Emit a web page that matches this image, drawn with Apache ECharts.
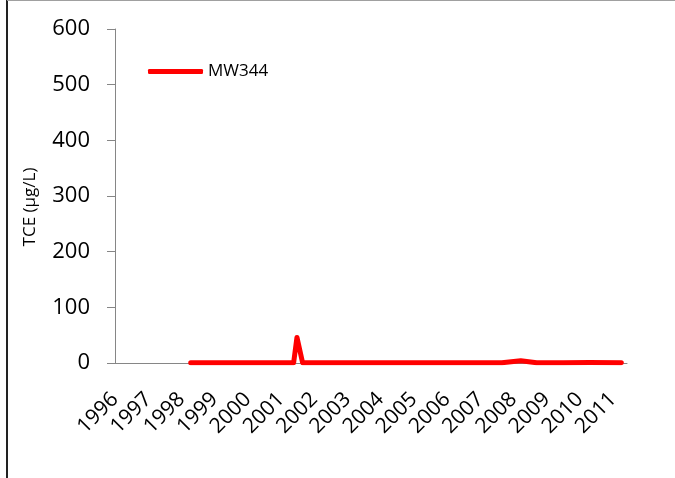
<!DOCTYPE html>
<html>
<head>
<meta charset="utf-8">
<script src="https://cdn.jsdelivr.net/npm/echarts@6/dist/echarts.min.js"></script>
<style>
html,body{margin:0;padding:0;background:#fff;}
#chart{width:675px;height:478px;}
</style>
</head>
<body>
<div id="chart"></div>
<script>
// Data
var seriesName = 'MW344';
var sampleYears = [1998.28, 1998.9, 1999.5, 2000.3, 2001.0, 2001.38, 2001.48, 2001.65, 2002.2, 2003.0, 2004.0, 2005.0, 2006.0, 2007.0, 2007.65, 2008.22, 2008.7, 2009.5, 2010.3, 2011.25];
var tceValues   = [0.5,     0.5,    0.5,    0.5,    0.5,    0.5,     46,      0.5,     0.5,    0.5,    0.5,    0.5,    0.5,    0.5,    0.5,     4,       0.5,    0.5,    0.8,    0.5];
var yearLabels  = ['1996','1997','1998','1999','2000','2001','2002','2003','2004','2005','2006','2007','2008','2009','2010','2011'];
var yTicks = [0, 100, 200, 300, 400, 500, 600];

var points = sampleYears.map(function (t, i) { return [t, tceValues[i]]; });
var firstYear = parseInt(yearLabels[0], 10);

var chart = echarts.init(document.getElementById('chart'), null, {renderer: 'canvas'});
var font = 'Open Sans';
chart.setOption({
  backgroundColor: '#ffffff',
  animation: false,
  graphic: [
    {type: 'line', shape: {x1: 7, y1: 0, x2: 7, y2: 478}, style: {stroke: '#222', lineWidth: 2}, z: 10},
    {type: 'line', shape: {x1: 7, y1: 0.5, x2: 675, y2: 0.5}, style: {stroke: '#a0a0a0', lineWidth: 1}, z: 10}
  ],
  legend: {
    left: 143, top: 58,
    icon: 'roundRect',
    itemWidth: 55, itemHeight: 5,
    itemGap: 5,
    textStyle: {fontFamily: font, fontSize: 17, color: '#000', padding: [0, 0, 0, 0]},
    data: [seriesName]
  },
  grid: {left: 115, top: 29, width: 512, height: 334, containLabel: false},
  xAxis: {
    type: 'value',
    min: firstYear,
    max: 2011.42,
    interval: 1,
    axisLine: {show: true, lineStyle: {color: '#868686', width: 1}},
    axisTick: {show: false},
    splitLine: {show: false},
    axisLabel: {
      rotate: 45, margin: 33, showMaxLabel: false,
      fontFamily: font, fontSize: 21, color: '#000',
      formatter: function (v) {
        var i = Math.round(v - firstYear);
        return Math.abs(v - Math.round(v)) < 1e-6 && yearLabels[i] ? yearLabels[i] : '';
      }
    }
  },
  yAxis: {
    type: 'value',
    min: yTicks[0], max: yTicks[yTicks.length - 1], interval: 100,
    name: 'TCE (µg/L)',
    nameLocation: 'middle',
    nameGap: 76,
    nameTextStyle: {fontFamily: font, fontSize: 17, color: '#000', padding: [0, 22, 0, 0]},
    axisLine: {show: true, lineStyle: {color: '#868686', width: 1}},
    axisTick: {show: true, length: 8, inside: false, lineStyle: {color: '#868686'}},
    splitLine: {show: false},
    axisLabel: {margin: 25, fontFamily: font, fontSize: 22, color: '#000'}
  },
  series: [{
    name: seriesName,
    type: 'line',
    data: points,
    symbol: 'none',
    color: '#ff0000',
    itemStyle: {color: '#ff0000'},
    lineStyle: {color: '#ff0000', width: 5, cap: 'round', join: 'round'}
  }]
});
</script>
</body>
</html>
